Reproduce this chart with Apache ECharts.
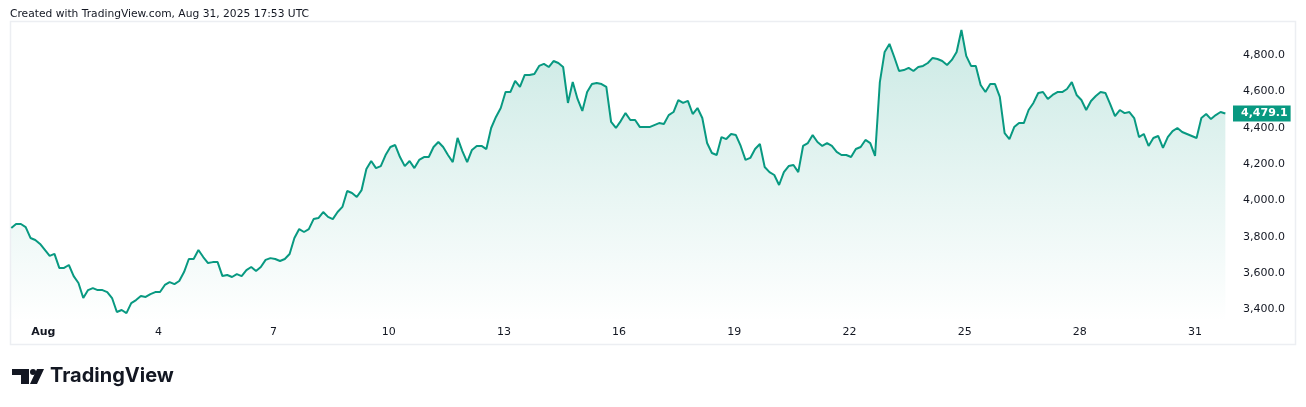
<!DOCTYPE html>
<html>
<head>
<meta charset="utf-8">
<title>ETH chart</title>
<script src="https://cdn.jsdelivr.net/npm/echarts@6/dist/echarts.min.js"></script>
<style>
  html, body { margin: 0; padding: 0; background: #fff; }
  #chart { width: 1306px; height: 407px; }
</style>
</head>
<body>
<div id="chart"></div>
<script>
// hours counted from Aug 1 00:00, one price every 3 hours
var startHour = -20;
var stepHours = 3;
var prices = [
  3848, 3870, 3870, 3853, 3793, 3782, 3760, 3727, 3694, 3705,
  3628, 3628, 3644, 3583, 3545, 3462, 3506, 3517, 3506, 3506,
  3495, 3462, 3385, 3396, 3379, 3434, 3451, 3473, 3468, 3484,
  3495, 3495, 3534, 3550, 3539, 3556, 3605, 3677, 3677, 3727,
  3688, 3655, 3660, 3660, 3583, 3589, 3578, 3594, 3583, 3616,
  3633, 3611, 3633, 3672, 3682, 3677, 3666, 3677, 3705, 3793,
  3842, 3826, 3842, 3897, 3903, 3936, 3909, 3897, 3936, 3964,
  4052, 4041, 4019, 4057, 4173, 4217, 4178, 4189, 4250, 4294,
  4305, 4239, 4189, 4217, 4178, 4223, 4239, 4239, 4294, 4322,
  4294, 4250, 4211, 4344, 4272, 4211, 4278, 4300, 4300, 4283,
  4399, 4460, 4509, 4597, 4597, 4658, 4625, 4691, 4691, 4697,
  4741, 4752, 4735, 4768, 4757, 4735, 4537, 4652, 4559, 4493,
  4597, 4641, 4647, 4641, 4625, 4432, 4399, 4437, 4481, 4443,
  4443, 4404, 4404, 4404, 4415, 4426, 4421, 4470, 4487, 4553,
  4537, 4548, 4476, 4509, 4454, 4316, 4261, 4250, 4349, 4338,
  4366, 4360, 4300, 4223, 4234, 4283, 4311, 4184, 4156, 4140,
  4085, 4156, 4189, 4195, 4156, 4300, 4316, 4360, 4322, 4300,
  4316, 4300, 4267, 4250, 4250, 4239, 4283, 4294, 4333, 4316,
  4245, 4652, 4818, 4862, 4790, 4713, 4718, 4730, 4713, 4735,
  4741, 4757, 4785, 4779, 4768, 4746, 4774, 4818, 4939, 4796,
  4741, 4741, 4636, 4597, 4641, 4641, 4570, 4371, 4338, 4404,
  4426, 4426, 4498, 4537, 4592, 4597, 4559, 4581, 4597, 4597,
  4614, 4652, 4581, 4553, 4498, 4548, 4575, 4597, 4592, 4531,
  4465, 4498, 4481, 4487, 4454, 4349, 4366, 4300, 4344, 4355,
  4289, 4349, 4382, 4399, 4377, 4366, 4355, 4344, 4454, 4476,
  4448, 4470, 4487, 4479.1
];
var dayTickHours = [0, 72, 144, 216, 288, 360, 432, 504, 576, 648, 720];
var dayTickLabels = ['Aug', '4', '7', '10', '13', '16', '19', '22', '25', '28', '31'];
var priceTicks = [3400, 3600, 3800, 4000, 4200, 4400, 4600, 4800];
var lastPrice = prices[prices.length - 1];

var seriesData = [];
for (var i = 0; i < prices.length; i++) {
  seriesData.push([startHour + i * stepHours, prices[i]]);
}

function fmtPrice(v) {
  return Number(v).toLocaleString('en-US', { minimumFractionDigits: 1, maximumFractionDigits: 1 });
}

var chart = echarts.init(document.getElementById('chart'), null, { renderer: 'canvas' });
chart.setOption({
  animation: false,
  backgroundColor: '#ffffff',
  textStyle: { fontFamily: 'DejaVu Sans' },
  grid: { left: 10, right: 76, top: 20, bottom: 85 },
  graphic: [
    {
      type: 'text', left: 10, top: 9,
      style: { text: 'Created with TradingView.com, Aug 31, 2025 17:53 UTC', fill: '#131722', font: '10.7px "DejaVu Sans"' }
    },
    {
      type: 'rect', shape: { x: 10.5, y: 21.5, width: 1285, height: 323 },
      style: { fill: 'none', stroke: '#eceef2', lineWidth: 1.5 }, silent: true
    },
    // TradingView logo
    {
      type: 'polygon', shape: { points: [[12, 369], [29, 369], [29, 384], [21, 384], [21, 375], [12, 375]] },
      style: { fill: '#131722' }
    },
    { type: 'circle', shape: { cx: 33, cy: 372, r: 3 }, style: { fill: '#131722' } },
    {
      type: 'polygon', shape: { points: [[37, 369], [44, 369], [37, 384], [30, 384]] },
      style: { fill: '#131722' }
    },
    {
      type: 'text', left: 50, top: 366,
      style: { text: 'TradingView', fill: '#131722', font: 'bold 20px Inter' }
    }
  ],
  xAxis: {
    type: 'value',
    min: -20.8,
    max: 741.9,
    axisLine: { show: false },
    axisTick: { show: false },
    splitLine: { show: false },
    axisLabel: {
      customValues: dayTickHours,
      margin: 5,
      color: '#131722',
      fontSize: 11,
      fontFamily: 'DejaVu Sans',
      formatter: function (v) {
        var k = dayTickHours.indexOf(v);
        var s = k >= 0 ? dayTickLabels[k] : '';
        return s === 'Aug' ? '{b|' + s + '}' : s;
      },
      rich: { b: { fontWeight: 'bold', fontSize: 11, color: '#131722', fontFamily: 'DejaVu Sans' } }
    }
  },
  yAxis: {
    type: 'value',
    position: 'right',
    min: 3330,
    max: 4994,
    axisLine: { show: false },
    axisTick: { show: false },
    splitLine: { show: false },
    axisLabel: {
      customValues: priceTicks,
      margin: 13,
      color: '#131722',
      fontSize: 11,
      fontFamily: 'DejaVu Sans',
      formatter: fmtPrice
    }
  },
  series: [{
    type: 'line',
    data: seriesData,
    showSymbol: false,
    symbol: 'none',
    lineStyle: { color: '#089981', width: 2 },
    areaStyle: {
      origin: 'start',
      color: new echarts.graphic.LinearGradient(0, 0, 0, 1, [
        { offset: 0, color: 'rgba(8,153,129,0.30)' },
        { offset: 0.5, color: 'rgba(8,153,129,0.15)' },
        { offset: 1, color: 'rgba(8,153,129,0.0)' }
      ])
    },
    markLine: {
      silent: true,
      symbol: ['none', 'none'],
      lineStyle: { color: 'rgba(0,0,0,0)', width: 1 },
      data: [{ yAxis: lastPrice }],
      label: {
        show: true,
        position: 'end',
        distance: 3,
        formatter: function () { return fmtPrice(lastPrice); },
        backgroundColor: '#089981',
        color: '#ffffff',
        fontWeight: 'bold',
        fontSize: 11,
        fontFamily: 'DejaVu Sans',
        padding: [2, 3, 2, 8],
        lineHeight: 12
      }
    }
  }]
});
</script>
</body>
</html>
